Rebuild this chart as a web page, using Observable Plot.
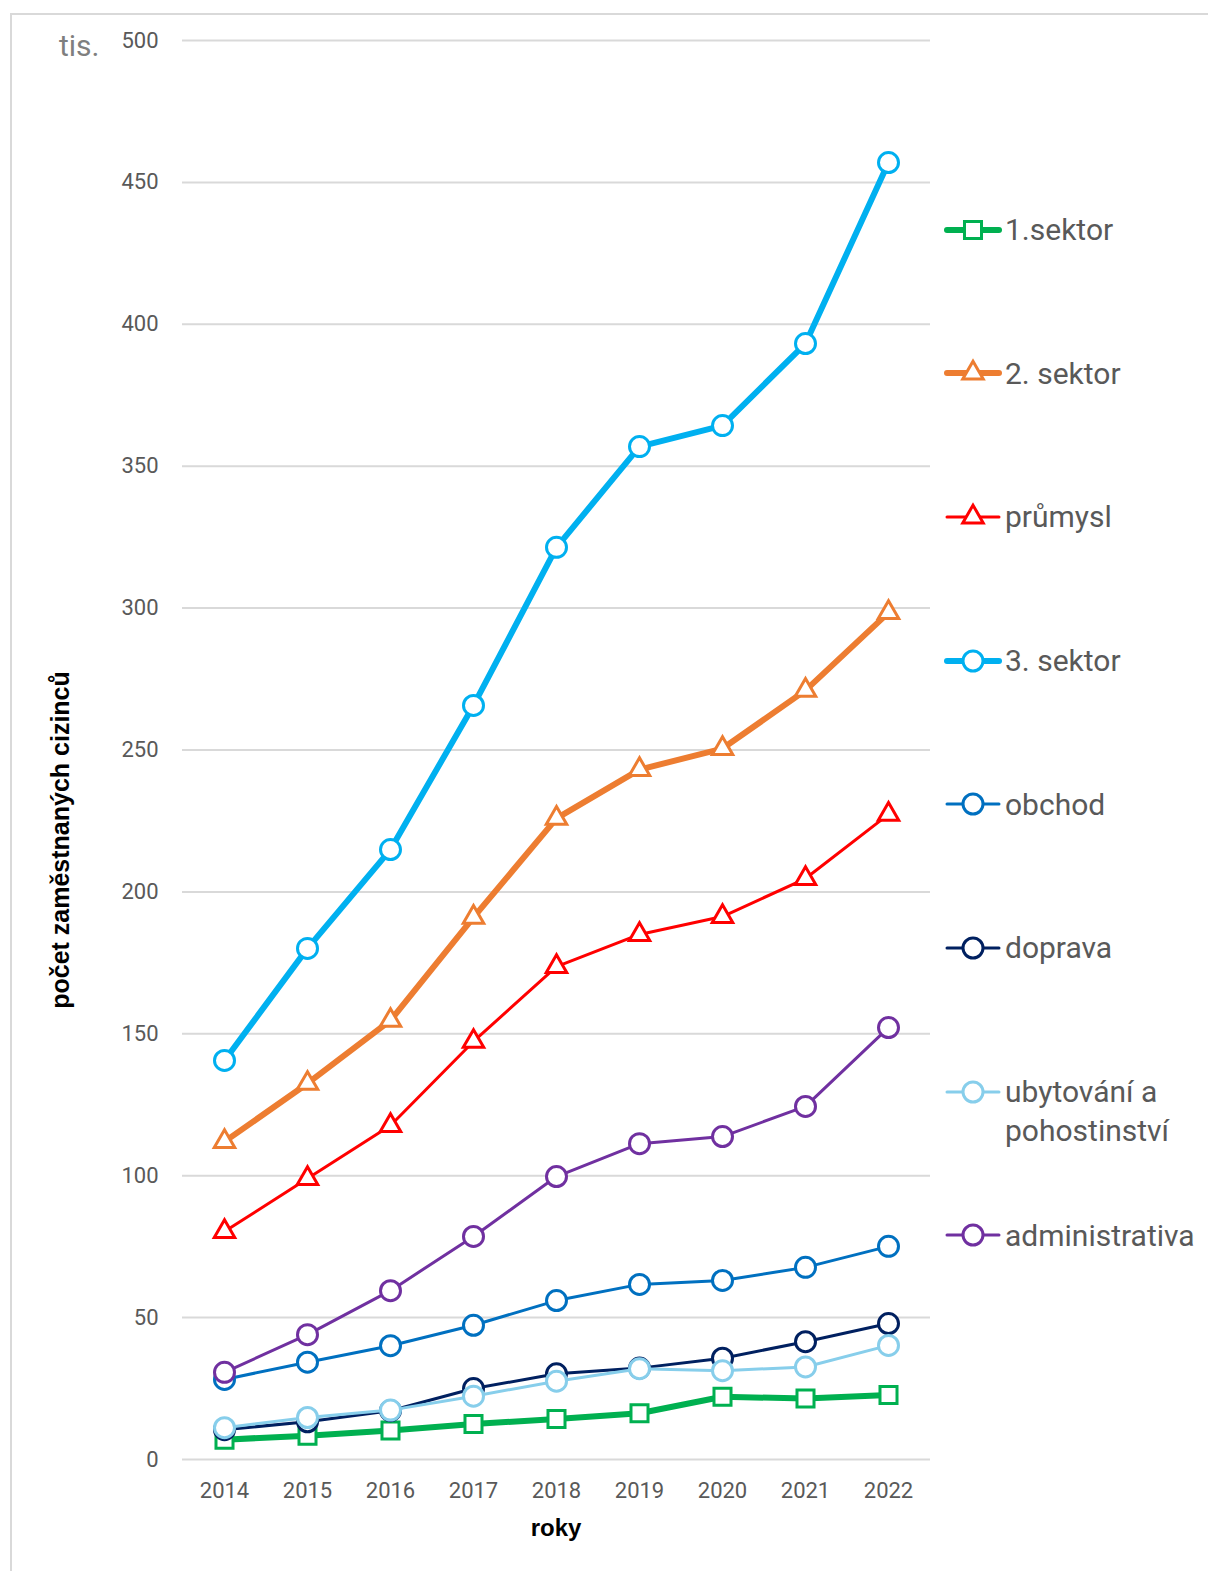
<!DOCTYPE html>
<html>
<head>
<meta charset="utf-8">
<script src="https://cdn.jsdelivr.net/npm/d3@7"></script>
<script src="https://cdn.jsdelivr.net/npm/@observablehq/plot@0.6"></script>
<style>
  html, body { margin: 0; padding: 0; background: #fff; }
  #wrap { position: relative; width: 1208px; height: 1571px; overflow: hidden; font-family: Roboto, sans-serif; }
  #border { position: absolute; left: 10px; top: 13px; right: -10px; bottom: -10px; border-left: 2px solid #d9d9d9; border-top: 2px solid #d9d9d9; }
  #chart { position: absolute; left: 0; top: 0; }
  #tis { position: absolute; left: 59px; top: 28px; font-size: 30px; color: #7f7f7f; }
  #ytitle { position: absolute; left: 60px; top: 840px; transform: translate(-50%, -50%) rotate(-90deg); white-space: nowrap;
            font-family: "Liberation Sans", Arial, sans-serif; font-weight: bold; font-size: 25px; color: #000; }
  #xtitle { position: absolute; left: 556px; top: 1528px; transform: translate(-50%, -50%);
            font-family: "Liberation Sans", Arial, sans-serif; font-weight: bold; font-size: 24px; color: #000; }
  #legend { position: absolute; left: 944px; top: 210px; }
  .item { height: 143.7px; display: flex; align-items: flex-start; }
  .item svg { flex: none; margin-top: 4.5px; }
  .item span { font-size: 30px; line-height: 39px; color: #595959; margin-left: 3px; white-space: nowrap; }
</style>
</head>
<body>
<div id="wrap">
  <div id="border"></div>
  <div id="chart"></div>
  <div id="tis">tis.</div>
  <div id="ytitle">počet zaměstnaných cizinců</div>
  <div id="xtitle">roky</div>
  <div id="legend"></div>
</div>
<script>
const years = [2014, 2015, 2016, 2017, 2018, 2019, 2020, 2021, 2022];
const yTicks = [0, 50, 100, 150, 200, 250, 300, 350, 400, 450, 500];

const seriesNames = ["1.sektor", "2. sektor", "průmysl", "3. sektor", "obchod", "doprava", "ubytování a pohostinství", "administrativa"];
const seriesColors = ["#00B050", "#ED7D31", "#FF0000", "#00B0F0", "#0070C0", "#002060", "#87CEEB", "#7030A0"];
const seriesSymbols = ["square", "triangle", "triangle", "circle", "circle", "circle", "circle", "circle"];
const seriesWidths = [6, 6, 3, 6, 3, 3, 3, 3];

const sektor1 = [7.0, 8.4, 10.2, 12.5, 14.3, 16.3, 22.1, 21.5, 22.7];
const sektor2 = [112.0, 132.5, 154.7, 191.0, 225.9, 243.1, 250.5, 271.0, 298.4];
const prumysl = [80.3, 99.0, 117.7, 147.3, 173.7, 185.0, 191.3, 204.7, 227.3];
const sektor3 = [140.6, 180.1, 214.9, 265.7, 321.4, 356.9, 364.3, 393.2, 457.0];
const obchod = [28.2, 34.3, 40.1, 47.3, 56.0, 61.7, 63.1, 67.7, 75.1];
const doprava = [10.5, 13.3, 17.2, 25.0, 30.2, 32.2, 35.7, 41.5, 47.9];
const ubytovani = [11.2, 14.8, 17.4, 22.3, 27.6, 32.0, 31.3, 32.6, 40.2];
const administrativa = [30.7, 44.0, 59.5, 78.6, 99.7, 111.3, 113.8, 124.4, 152.2];

const seriesValues = [sektor1, sektor2, prumysl, sektor3, obchod, doprava, ubytovani, administrativa];

const symbolR = { square: 9.6, triangle: 7.6, circle: 10 };

const marks = [
  Plot.gridY(yTicks, { stroke: "#d9d9d9", strokeOpacity: 1, strokeWidth: 2 }),
  Plot.axisY(yTicks, { tickSize: 0, tickPadding: 24, fontSize: 22, fill: "#595959", label: null }),
  Plot.axisX(years, { tickSize: 0, tickPadding: 23, fontSize: 22, fill: "#595959", label: null, tickFormat: d => String(d) })
];

seriesNames.forEach((name, i) => {
  const data = years.map((yr, j) => ({ year: yr, value: seriesValues[i][j] }));
  marks.push(Plot.line(data, { x: "year", y: "value", stroke: seriesColors[i], strokeWidth: seriesWidths[i], strokeLinejoin: "round", strokeLinecap: "round" }));
  marks.push(Plot.dot(data, { x: "year", y: "value", symbol: seriesSymbols[i], r: symbolR[seriesSymbols[i]], fill: "white", stroke: seriesColors[i], strokeWidth: 3 }));
});

const chart = Plot.plot({
  width: 1208,
  height: 1571,
  marginLeft: 182,
  marginRight: 278,
  marginTop: 40,
  marginBottom: 112,
  style: { fontFamily: "Roboto, sans-serif", fontSize: "22px", color: "#595959", background: "transparent" },
  x: { type: "point", domain: years, padding: 0.5, label: null },
  y: { domain: [0, 500], label: null },
  marks
});
document.getElementById("chart").appendChild(chart);

// legend
const legend = document.getElementById("legend");
seriesNames.forEach((name, i) => {
  const item = document.createElement("div");
  item.className = "item";
  const svg = d3.create("svg").attr("width", 58).attr("height", 30);
  svg.append("line").attr("x1", 3).attr("x2", 55).attr("y1", 15).attr("y2", 15)
    .attr("stroke", seriesColors[i]).attr("stroke-width", seriesWidths[i]).attr("stroke-linecap", "round");
  const sym = { square: d3.symbolSquare, triangle: d3.symbolTriangle, circle: d3.symbolCircle }[seriesSymbols[i]];
  const r = symbolR[seriesSymbols[i]];
  svg.append("path").attr("d", d3.symbol(sym, Math.PI * r * r)()).attr("transform", "translate(29,15)")
    .attr("fill", "white").attr("stroke", seriesColors[i]).attr("stroke-width", 3);
  item.appendChild(svg.node());
  const span = document.createElement("span");
  if (name === "ubytování a pohostinství") {
    span.innerHTML = "ubytování a<br>pohostinství";
  } else {
    span.textContent = name;
  }
  item.appendChild(span);
  legend.appendChild(item);
});
</script>
</body>
</html>
